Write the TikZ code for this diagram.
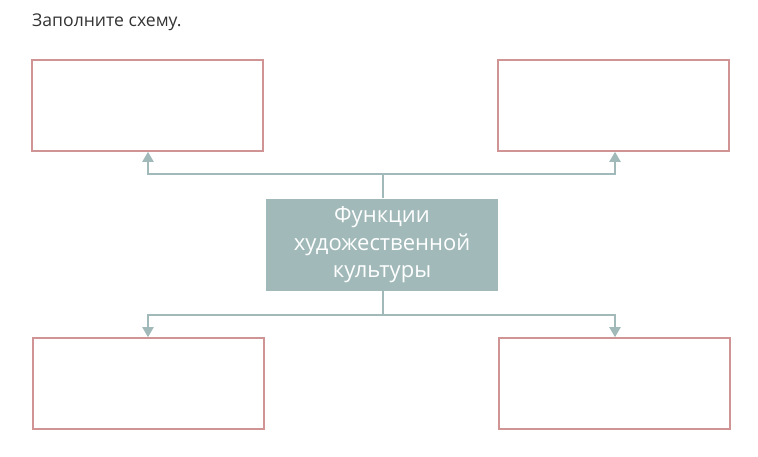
\documentclass[tikz,border=0pt]{standalone}
\usepackage{fontspec}
\setmainfont{Open Sans}
\usetikzlibrary{arrows.meta}
\definecolor{boxred}{HTML}{D09494}
\definecolor{teal}{HTML}{A1B9B9}
\definecolor{titlegray}{HTML}{333333}
\begin{document}
\begin{tikzpicture}[x=1pt,y=-1pt,
  emptybox/.style={draw=boxred,line width=1.6pt,minimum width=231pt,minimum height=91pt,inner sep=0pt,fill=white},
  centerbox/.style={fill=teal,text=white,minimum width=232pt,minimum height=92pt,inner sep=0pt,align=center,font=\fontsize{22}{27.5}\selectfont},
  conn/.style={draw=teal,line width=2pt},
  arr/.style={conn,-{Triangle[length=10pt,width=11pt]}}]
\useasboundingbox (0,0) rectangle (758,457);
\node[anchor=west,text=titlegray,font=\fontsize{17.6}{20}\selectfont,inner sep=0pt] (title) at (32,22) {Заполните схему.};
\node[emptybox] (tl) at (147.5,105.5) {};
\node[emptybox] (tr) at (613.5,105.5) {};
\node[emptybox] (bl) at (148.5,383.5) {};
\node[emptybox] (br) at (614.5,383.5) {};
\node[centerbox] (c) at (382,245) {Функции\\художественной\\культуры};
\coordinate (ct) at (383,198);
\coordinate (cb) at (383,291);
\coordinate (ut) at (383,174);
\coordinate (db) at (383,315);
\coordinate (utl) at (148,174);
\coordinate (utr) at (615,174);
\coordinate (dbl) at (148,315);
\coordinate (dbr) at (615,315);
\draw[conn] (ct) -- (ut);
\draw[conn] (cb) -- (db);
\draw[arr] (ut) -- (utl) -- (utl |- tl.south);
\draw[arr] (ut) -- (utr) -- (utr |- tr.south);
\draw[arr] (db) -- (dbl) -- (dbl |- bl.north);
\draw[arr] (db) -- (dbr) -- (dbr |- br.north);
\end{tikzpicture}
\end{document}
